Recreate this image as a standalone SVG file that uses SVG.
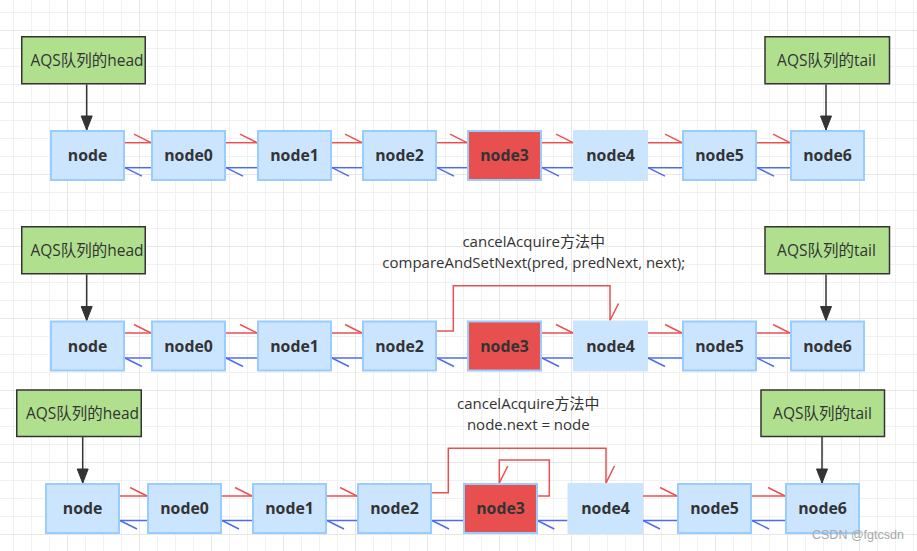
<svg xmlns="http://www.w3.org/2000/svg" width="917" height="551" viewBox="0 0 917 551">
<style>
.nd{fill:#cce5ff;stroke:#99ccff;stroke-width:2}
.nd3{fill:#e85050;stroke:#99ccff;stroke-width:2}
.nd4{fill:#cce5ff;stroke:none}
.nt{font-family:"Open Sans","Noto Sans",sans-serif;font-weight:bold;font-size:15.8px;fill:#333;text-anchor:middle}
.bx{fill:#b0e08e;stroke:#333;stroke-width:1.5}
.bt{font-family:"Open Sans","Noto Sans CJK SC",sans-serif;font-size:15.5px;fill:#333;text-anchor:middle}
.lt{font-family:"Open Sans","Noto Sans CJK SC",sans-serif;font-size:15px;fill:#333;text-anchor:middle}
.r{fill:none;stroke:#ea5050;stroke-width:1.5;marker-end:url(#hr)}
.b{fill:none;stroke:#4d6bf0;stroke-width:1.5;marker-end:url(#hb)}
.k{fill:none;stroke:#333;stroke-width:1.5;marker-end:url(#ka)}
.wm{font-family:"Liberation Sans",Arial,sans-serif;font-size:12.5px;fill:#a8a8a8}
</style>
<defs>
<pattern id="grid" patternUnits="userSpaceOnUse" x="67" y="30" width="72" height="72">
<rect x="0" y="0" width="72" height="72" fill="#ffffff"/>
<g fill="#f1f1f1">
<rect x="18" y="0" width="1" height="72"/><rect x="36" y="0" width="1" height="72"/><rect x="54" y="0" width="1" height="72"/>
<rect x="0" y="18" width="72" height="1"/><rect x="0" y="36" width="72" height="1"/><rect x="0" y="54" width="72" height="1"/>
</g>
<g fill="#e6e6e6">
<rect x="0" y="0" width="1" height="72"/><rect x="0" y="0" width="72" height="1"/>
</g>
</pattern>
<marker id="hr" markerUnits="userSpaceOnUse" orient="auto" markerWidth="40" markerHeight="40" refX="0" refY="0" overflow="visible">
<path d="M-17,-8.5 L0,0" stroke="#ea5050" stroke-width="1.5" fill="none"/>
</marker>
<marker id="hb" markerUnits="userSpaceOnUse" orient="auto" markerWidth="40" markerHeight="40" refX="0" refY="0" overflow="visible">
<path d="M-17,-8.5 L0,0" stroke="#4d6bf0" stroke-width="1.5" fill="none"/>
</marker>
<marker id="ka" markerUnits="userSpaceOnUse" orient="auto" markerWidth="40" markerHeight="40" refX="0" refY="0" overflow="visible">
<path d="M-14,-5.5 L0,0 L-14,5.5 Z" fill="#333" stroke="#333" stroke-width="1"/>
</marker>
</defs>
<rect x="0" y="0" width="917" height="551" fill="url(#grid)"/>

<g id="connectors">
<!-- row 1 -->
<path class="k" d="M86.7,84.5 V130"/>
<path class="k" d="M826,84.5 V130"/>
<path class="r" d="M125,142.7 H151"/>
<path class="r" d="M226,142.7 H257"/>
<path class="r" d="M332,142.7 H362"/>
<path class="r" d="M437,142.7 H467"/>
<path class="r" d="M542,142.7 H573"/>
<path class="r" d="M648,142.7 H682"/>
<path class="r" d="M757,142.7 H790"/>
<path class="b" d="M151,167.7 H125"/>
<path class="b" d="M257,167.7 H226"/>
<path class="b" d="M362,167.7 H332"/>
<path class="b" d="M467,167.7 H437"/>
<path class="b" d="M573,167.7 H542"/>
<path class="b" d="M682,167.7 H648"/>
<path class="b" d="M790,167.7 H757"/>
<!-- row 2 -->
<path class="k" d="M86.7,274.5 V320.5"/>
<path class="k" d="M826,274.5 V320.5"/>
<path class="r" d="M125,333 H151"/>
<path class="r" d="M226,333 H257"/>
<path class="r" d="M332,333 H362"/>
<path class="r" d="M437,331 H453.3 V285.7 H610 V320.5"/>
<path class="r" d="M542,333 H573"/>
<path class="r" d="M648,333 H682"/>
<path class="r" d="M757,333 H790"/>
<path class="b" d="M151,358 H125"/>
<path class="b" d="M257,358 H226"/>
<path class="b" d="M362,358 H332"/>
<path class="b" d="M467,358 H437"/>
<path class="b" d="M573,358 H542"/>
<path class="b" d="M682,358 H648"/>
<path class="b" d="M790,358 H757"/>
<!-- row 3 -->
<path class="k" d="M82.7,437 V483"/>
<path class="k" d="M822,437 V483"/>
<path class="r" d="M120,496 H147"/>
<path class="r" d="M222,496 H252"/>
<path class="r" d="M327,496 H357"/>
<path class="r" d="M432,492.7 H448.3 V448.3 H606 V483"/>
<path class="r" d="M537.3,496 H549.3 V460 H499.3 V483"/>
<path class="r" d="M643,496 H677"/>
<path class="r" d="M752,496 H785"/>
<path class="b" d="M147,520.5 H120"/>
<path class="b" d="M252,520.5 H222"/>
<path class="b" d="M357,520.5 H327"/>
<path class="b" d="M463,520.5 H432"/>
<path class="b" d="M567.5,520.5 H537.3"/>
<path class="b" d="M677,520.5 H643"/>
<path class="b" d="M785,520.5 H752"/>
</g>

<!-- Row 1 -->
<g id="head1"><rect class="bx" x="21.75" y="36.75" width="123.5" height="47"/><text class="bt" x="87" y="65.5">AQS队列的head</text></g>
<g id="tail1"><rect class="bx" x="765" y="36.75" width="124.5" height="47"/><text class="bt" x="826.5" y="65.5">AQS队列的tail</text></g>
<g id="r1-node"><rect class="nd" x="51" y="131" width="73" height="49"/><text class="nt" x="87.5" y="161">node</text></g>
<g id="r1-node0"><rect class="nd" x="152" y="131" width="73" height="49"/><text class="nt" x="188.5" y="161">node0</text></g>
<g id="r1-node1"><rect class="nd" x="258" y="131" width="73" height="49"/><text class="nt" x="294.5" y="161">node1</text></g>
<g id="r1-node2"><rect class="nd" x="363" y="131" width="73" height="49"/><text class="nt" x="399.5" y="161">node2</text></g>
<g id="r1-node3"><rect class="nd3" x="468" y="131" width="73" height="49"/><text class="nt" x="504.5" y="161">node3</text></g>
<g id="r1-node4"><rect class="nd4" x="573" y="130" width="75" height="51"/><text class="nt" x="610.5" y="161">node4</text></g>
<g id="r1-node5"><rect class="nd" x="683" y="131" width="73" height="49"/><text class="nt" x="719.5" y="161">node5</text></g>
<g id="r1-node6"><rect class="nd" x="791" y="131" width="73" height="49"/><text class="nt" x="827.5" y="161">node6</text></g>

<!-- Row 2 -->
<g id="head2"><rect class="bx" x="21.75" y="226.75" width="123.5" height="47"/><text class="bt" x="87" y="255.5">AQS队列的head</text></g>
<g id="tail2"><rect class="bx" x="765" y="226.75" width="124.5" height="47"/><text class="bt" x="826.5" y="255.5">AQS队列的tail</text></g>
<g id="label2"><text class="lt" x="533.7" y="246.5">cancelAcquire方法中</text><text class="lt" x="533.7" y="268">compareAndSetNext(pred, predNext, next);</text></g>
<g id="r2-node"><rect class="nd" x="51" y="321.5" width="73" height="49"/><text class="nt" x="87.5" y="351.5">node</text></g>
<g id="r2-node0"><rect class="nd" x="152" y="321.5" width="73" height="49"/><text class="nt" x="188.5" y="351.5">node0</text></g>
<g id="r2-node1"><rect class="nd" x="258" y="321.5" width="73" height="49"/><text class="nt" x="294.5" y="351.5">node1</text></g>
<g id="r2-node2"><rect class="nd" x="363" y="321.5" width="73" height="49"/><text class="nt" x="399.5" y="351.5">node2</text></g>
<g id="r2-node3"><rect class="nd3" x="468" y="321.5" width="73" height="49"/><text class="nt" x="504.5" y="351.5">node3</text></g>
<g id="r2-node4"><rect class="nd4" x="573" y="320.5" width="75" height="51"/><text class="nt" x="610.5" y="351.5">node4</text></g>
<g id="r2-node5"><rect class="nd" x="683" y="321.5" width="73" height="49"/><text class="nt" x="719.5" y="351.5">node5</text></g>
<g id="r2-node6"><rect class="nd" x="791" y="321.5" width="73" height="49"/><text class="nt" x="827.5" y="351.5">node6</text></g>

<!-- Row 3 -->
<g id="head3"><rect class="bx" x="16.75" y="390" width="124.5" height="46.5"/><text class="bt" x="82.5" y="418.5">AQS队列的head</text></g>
<g id="tail3"><rect class="bx" x="761" y="390" width="123.5" height="46.5"/><text class="bt" x="822.5" y="418.5">AQS队列的tail</text></g>
<g id="label3"><text class="lt" x="528.3" y="408.5">cancelAcquire方法中</text><text class="lt" x="528.3" y="430">node.next = node</text></g>
<g id="r3-node"><rect class="nd" x="46" y="484" width="73" height="49"/><text class="nt" x="82.5" y="514">node</text></g>
<g id="r3-node0"><rect class="nd" x="148" y="484" width="73" height="49"/><text class="nt" x="184.5" y="514">node0</text></g>
<g id="r3-node1"><rect class="nd" x="253" y="484" width="73" height="49"/><text class="nt" x="289.5" y="514">node1</text></g>
<g id="r3-node2"><rect class="nd" x="358" y="484" width="73" height="49"/><text class="nt" x="394.5" y="514">node2</text></g>
<g id="r3-node3"><rect class="nd3" x="464" y="484" width="73" height="49"/><text class="nt" x="500.5" y="514">node3</text></g>
<g id="r3-node4"><rect class="nd4" x="567.5" y="483" width="75.5" height="51"/><text class="nt" x="605.5" y="514">node4</text></g>
<g id="r3-node5"><rect class="nd" x="678" y="484" width="73" height="49"/><text class="nt" x="714.5" y="514">node5</text></g>
<g id="r3-node6"><rect class="nd" x="786" y="484" width="73" height="49"/><text class="nt" x="822.5" y="514">node6</text></g>

<text class="wm" x="812" y="539">CSDN @fgtcsdn</text>
</svg>
